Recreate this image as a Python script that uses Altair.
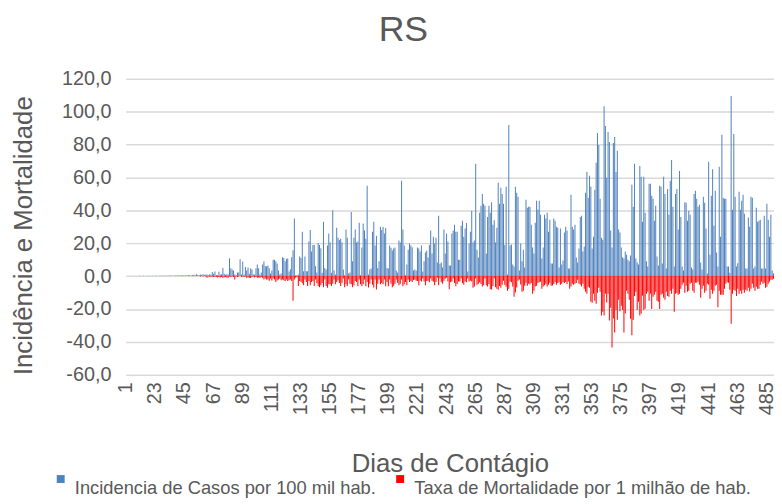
import altair as alt
import pandas as pd

title_text = "RS"
x_title = "Dias de Contágio"
y_title = "Incidência e Mortalidade"
series_names = ["Incidencia de Casos por 100 mil hab.",
                "Taxa de Mortalidade por 1 milhão de hab."]
series_colors = ["#4F81BD", "#FF0000"]
x_tick_days = [1, 23, 45, 67, 89, 111, 133, 155, 177, 199, 221, 243, 265,
               287, 309, 331, 353, 375, 397, 419, 441, 463, 485]
y_ticks = [-60, -40, -20, 0, 20, 40, 60, 80, 100, 120]
days = list(range(1, 491))

incidence = (
    [0.0] * 9 +
    [0.1, 0.2, 0.1, 0.1, 0.2, 0.1, 0.1, 0.2, 0.1, 0.2, 0.1] +
    [0.2, 0.1, 0.2, 0.2, 0.1, 0.2, 0.3, 0.2, 0.2, 0.3] +
    [0.3, 0.2, 0.3, 0.4, 0.3, 0.2, 0.3, 0.4, 0.3, 0.4] +
    [0.4, 0.3, 0.5, 0.4, 0.3, 0.5, 0.4, 0.6, 0.5, 0.4] +
    [0.6, 0.8, 0.5, 1.2, 0.7, 0.6, 1.0, 0.8, 1.2, 0.9] +
    [0.8, 1.0, 0.6, 1.2, 0.9, 2.5, 1.5, 2.8, 0.7, 0.5] +
    [2.6, 1.0, 1.2, 5.0, 1.5, 0.8, 1.2] +
    [1.0, 10.9, 4.8, 4.0, 3.4, 1.0, 0.5, 2.2, 2.2, 10.3] +
    [1.0, 8.9, 1.0, 5.5, 3.4, 5.3, 1.5, 4.8, 4.0, 1.0] +
    [1.0, 4.8, 7.0, 4.8, 1.0, 2.2, 7.0, 8.9, 6.0, 6.0] +
    [6.5, 4.8, 1.6, 3.4, 10.0, 10.0, 9.0, 7.7, 3.4, 1.0] +
    [1.6, 11.5, 11.0, 9.0, 10.5, 10.7, 2.8, 4.2, 11.5, 15.8] +
    [35.0, 0.5, 0.5, 1.0, 12.0, 11.0, 27.0, 3.0, 12.0, 3.0] +
    [3.0, 21.0, 28.0, 15.0, 19.0, 19.0, 6.0, 2.2, 20.0] +
    [19.0, 17.0, 2.0, 33.0, 5.0, 4.0, 18.6, 26.0, 20.6, 2.0] +
    [40.0, 3.4, 1.0, 29.5, 23.4, 22.0, 22.8, 20.4, 4.0, 0.6] +
    [28.3, 23.4, 1.6, 2.2, 39.0, 9.0, 23.4, 28.3, 20.4, 21.0] +
    [32.5, 0.5, 17.4, 32.0, 27.7, 22.8, 55.0, 1.0, 4.0, 4.6] +
    [27.0, 33.0, 18.6, 24.6, 5.0, 9.0, 30.0, 28.0, 30.0, 26.0] +
    [29.3, 5.0, 4.6, 18.6, 17.2, 15.6, 16.8, 17.4, 3.4, 2.2] +
    [21.6, 20.4, 58.0, 28.3, 18.6, 0.5, 7.0, 16.0, 19.8] +
    [18.6, 17.6, 3.4, 4.0, 3.4, 17.4, 16.8, 15.0, 18.6, 2.8] +
    [9.0, 14.3, 15.4, 11.3, 19.0, 27.7, 13.7, 24.0, 19.8, 23.4] +
    [8.3, 36.8, 7.5, 8.3, 5.3, 28.3, 13.7, 25.9, 21.0, 6.5] +
    [6.5, 25.9, 27.7, 31.3, 27.0, 27.0, 10.0, 10.0, 30.7, 33.7] +
    [24.0, 28.9, 32.3, 2.8, 19.8, 27.0, 39.8, 20.4, 21.6, 68.3] +
    [16.0, 11.3, 38.6, 42.8, 50.0, 44.0, 42.8, 13.7, 36.0, 42.8] +
    [38.6, 45.0, 31.3, 34.0, 20.4, 29.5, 56.8, 44.0, 53.7, 50.0] +
    [44.0, 19.0, 54.3, 1.0, 92.0, 18.6, 19.2, 7.0, 5.9, 54.3] +
    [50.7, 48.3, 3.4, 19.8, 9.0, 16.0, 5.3, 46.5, 41.6, 42.2] +
    [42.2, 31.3, 17.4, 13.7, 32.5, 45.9, 40.4, 45.9, 37.4, 10.7] +
    [17.4, 37.4, 35.0, 38.6, 27.0, 34.3, 7.7, 7.7, 35.0, 33.7] +
    [30.0, 29.5, 5.3, 28.9, 7.0, 9.5, 26.5, 30.0, 27.7, 4.6] +
    [4.6, 49.5, 30.0, 28.3, 31.3, 11.3, 8.3, 16.8, 36.0, 36.8] +
    [15.0, 18.0, 50.7, 63.4, 47.7, 61.0, 54.3, 16.8, 24.0, 52.5] +
    [68.9, 87.0, 79.8, 47.0, 23.4, 22.2, 103.4, 91.3, 59.8, 87.7] +
    [81.6, 27.7, 17.4, 81.0, 84.6, 63.4, 76.2, 28.3, 26.5, 17.4] +
    [11.5, 10.7, 15.0, 13.0, 10.0, 9.0, 12.5, 55.6, 42.2, 68.3] +
    [10.7, 8.3, 7.0, 67.0, 60.4, 33.0, 60.4, 38.6, 9.0, 5.9] +
    [56.2, 56.2, 48.9, 47.0, 33.7, 42.8, 12.0, 6.5, 55.0, 54.3] +
    [7.7, 60.4, 50.0, 4.6, 53.0, 37.4, 58.0, 70.7, 42.2, 5.9] +
    [50.0, 53.0, 28.3, 64.0, 36.0, 5.9, 3.4, 45.0, 44.6, 33.7] +
    [39.8, 37.4, 5.3, 4.0, 50.0, 52.0, 47.0, 42.2, 43.4, 8.3] +
    [4.0, 48.3, 44.6, 28.9, 1.6, 69.5, 13.0, 48.9, 65.0, 30.7] +
    [52.0, 14.3, 5.9, 66.5, 24.0, 86.0, 47.7, 47.0, 47.0, 5.9] +
    [5.9, 2.0, 109.5, 40.4, 86.5, 48.3, 5.9, 7.9, 51.3, 40.4] +
    [45.9, 49.5, 38.0, 4.6, 4.6, 35.6, 30.0, 48.3, 47.7, 4.6] +
    [5.9, 41.6, 33.0, 33.7, 34.3, 4.6, 4.6, 36.8, 4.6, 44.0] +
    [34.3, 24.0, 37.4, 3.4, 1.6]
)

mortality = (
    [0.0] * 55 +
    [0.0, -0.2, 0.0, -0.3, 0.0] +
    [-0.3, -1.0, -0.2, -0.3, -0.5, -0.3, -0.6, -0.4, -0.5, -0.8] +
    [-0.5, -0.8, -0.6, -1.0, -0.7, -0.5, -0.8] +
    [-1.0, -0.3, -0.5, -0.3, -0.5, -2.0, -0.3, -0.5, -0.3, 0.0] +
    [-0.5, -0.3, -0.5, -0.3, -1.0, -0.8, -1.0, -1.2, -0.5, -0.3] +
    [-0.8, -0.5, -1.0, -0.8, -1.2, -0.6, -1.0, -2.0, -1.5, -2.0] +
    [-2.0, -2.8, -1.5, -2.6, -1.5, -2.0, -3.6, -2.6, -2.0, -1.5] +
    [-2.5, -2.0, -2.5, -3.0, -2.0, -3.0, -2.5, -2.0, -3.0, -15.0] +
    [-2.0, -1.0, -0.5, -6.0, -3.0, -3.4, -4.4, -5.6, -2.0, -3.6] +
    [-6.0, -3.0, -5.5, -3.6, -3.0, -6.0, -2.0, -4.4, -6.0, -6.7] +
    [-5.6, -4.2] +
    [-6.7, -2.0, -6.0, -7.0, -5.0, -5.0, -6.0, -4.6, -2.0, -5.0] +
    [-3.6, -2.5, -4.2, -6.0, -4.0, -1.5, -6.7, -5.0, -6.0, -2.0] +
    [-4.6, -5.0, -6.7, -5.6, -3.0, -3.6, -6.2, -2.0, -5.0, -6.2] +
    [-5.0, -2.0, -6.2, -3.6, -6.9, -4.6, -2.0, -5.2, -6.9, -2.0] +
    [-8.2, -4.6, -2.0, -5.0, -4.2, -5.0, -2.0, -6.2, -3.6, -6.2] +
    [-2.0, -4.6, -6.7, -5.8, -4.6, -2.0, -4.0, -5.6, -4.6, -2.0] +
    [-6.2, -5.0, -3.6, -5.6, -2.0, -3.6] +
    [-3.0, -3.6, -2.4, -2.0, -2.8, -3.0, -5.6, -2.6, -3.2, -1.5] +
    [-3.2, -5.6, -3.0, -2.8, -3.8, -1.5, -2.8, -3.4, -5.6, -3.6] +
    [-1.0, -5.6, -1.5, -3.8, -4.6, -2.8, -1.6, -1.0, -3.2, -8.0] +
    [-3.8, -3.2, -1.5, -4.2, -6.2, -4.8, -3.2, -3.2, -1.5, -4.4] +
    [-5.2, -3.2, -3.8, -1.5, -3.2, -2.8, -3.2, -7.1, -6.3, -1.5] +
    [-5.2, -4.6, -3.8, -4.8, -6.3, -5.5, -1.5, -5.5, -6.3, -4.8] +
    [-8.0, -8.1, -6.1, -1.5, -6.8, -7.7, -8.3] +
    [-6.0, -7.1, -5.3, -2.8, -5.3, -6.5, -8.9, -7.7, -3.2, -3.8] +
    [-6.3, -12.5, -10.0, -6.9, -2.8, -2.0, -5.1, -9.5, -8.9, -5.9] +
    [-4.0, -5.9, -4.6, -5.1, -4.2, -10.7, -8.9, -6.3, -5.9, -4.2] +
    [-3.8, -3.4, -7.7, -6.3, -5.5, -4.6, -6.3, -5.3, -4.0, -5.9] +
    [-5.7, -4.8, -3.8, -5.3, -4.2, -3.8, -5.3, -4.6, -3.8, -4.2] +
    [-3.6, -4.8, -3.2, -7.7, -6.3, -4.6, -5.3, -4.6, -4.2, -2.2, -4.6, -5.1, -6.3] +
    [-4.6, -7.7, -9.5, -10.7, -6.5, -7.1, -15.6, -16.2, -10.7, -15.0] +
    [-16.8, -10.1, -7.1, -9.5, -24.0, -21.6, -24.0, -10.7, -16.0, -10.7] +
    [-27.0, -19.2, -43.4, -25.8, -34.3, -20.6, -26.5, -14.3, -21.4, -18.0] +
    [-20.6, -34.3, -22.8, -8.9, -10.7, -14.3, -25.9, -36.0, -26.7, -12.1] +
    [-9.5, -20.6, -15.6, -24.0, -22.8, -11.9, -20.6, -19.8, -10.7, -9.5] +
    [-15.0, -10.7, -20.0, -12.5, -11.3, -9.5, -15.0, -15.6, -20.0, -11.3] +
    [-10.7, -13.1, -14.3, -9.5, -12.1, -12.5, -8.9, -10.7, -7.7, -21.6] +
    [-10.7, -10.3] +
    [-11.3, -10.7, -7.7, -5.3, -4.0, -10.1, -5.9, -9.5, -8.9, -4.6] +
    [-4.0, -8.9, -10.1, -4.0, -4.0, -3.4, -5.3, -13.1, -7.7, -5.9] +
    [-10.1, -8.9, -4.6, -5.3, -13.7, -8.3, -10.7, -8.9, -5.9, -5.3] +
    [-19.0, -8.9, -11.3, -11.3, -11.3, -7.7, -4.6, -3.8, -4.0, -8.3] +
    [-28.9] +
    [-10.7, -8.3, -8.9, -12.1, -7.7, -10.7, -8.9, -10.7, -8.3, -10.1] +
    [-8.3, -8.9, -7.1, -9.3, -7.7, -4.6, -7.1, -8.9, -6.5, -7.7] +
    [-7.7, -5.3, -3.4, -4.6, -4.0, -7.1, -6.5, -4.6, -3.4, -2.2] +
    [-2.2, -1.6]
)

n = len(days)
inc = (incidence + [0.0] * n)[:n]
mor = (mortality + [0.0] * n)[:n]

df = pd.DataFrame({
    "day": days + days,
    "value": inc + mor,
    "series": [series_names[0]] * n + [series_names[1]] * n,
})

FONT = "Liberation Sans"
GRAY = "#595959"

chart = alt.Chart(df).mark_bar().encode(
    x=alt.X(
        "day:O",
        scale=alt.Scale(paddingInner=0.25, paddingOuter=0),
        axis=alt.Axis(
            values=x_tick_days, labelAngle=270, labelFontSize=20, labelFont=FONT,
            labelColor=GRAY, labelPadding=7, ticks=False, domain=False, grid=False,
            labelOverlap=False, title=x_title, titleFontSize=26, titleFont=FONT,
            titleColor=GRAY, titleFontWeight="normal", titleBaseline="alphabetic",
            titleY=98,
        ),
    ),
    y=alt.Y(
        "value:Q", stack=None,
        scale=alt.Scale(domain=[-60, 120], nice=False, zero=False),
        axis=alt.Axis(
            values=y_ticks,
            labelExpr="(datum.value < 0 ? '-' : '') + replace(format(abs(datum.value), '.1f'), '.', ',')",
            labelFontSize=20, labelFont=FONT, labelColor=GRAY, labelPadding=15,
            ticks=False, domain=False, gridColor="#D9D9D9", gridWidth=1.5,
            title=y_title, titleFontSize=26, titleFont=FONT, titleColor=GRAY,
            titleFontWeight="normal", titleBaseline="alphabetic", titleX=-95, titleY=158,
        ),
    ),
    color=alt.Color(
        "series:N",
        scale=alt.Scale(domain=series_names, range=series_colors),
        legend=alt.Legend(
            orient="none", legendX=-75, legendY=395, direction="horizontal", title=None,
            symbolType="square", symbolSize=64, symbolStrokeWidth=0,
            labelFontSize=18.5, labelFont=FONT, labelColor=GRAY, labelBaseline="top",
            labelOffset=5, columnPadding=15, labelLimit=0,
        ),
    ),
).properties(
    width=655, height=299,
    title=alt.TitleParams(
        text=title_text, fontSize=36, font=FONT, fontWeight="normal", color=GRAY,
        anchor="middle", dx=-47, dy=32, baseline="alphabetic", offset=24,
    ),
    autosize=alt.AutoSizeParams(type="none"),
    padding={"left": 119, "top": 69, "right": 0, "bottom": 128},
).configure_view(stroke=None)

chart.save("out.html", embed_options={"renderer": "svg", "actions": False})
